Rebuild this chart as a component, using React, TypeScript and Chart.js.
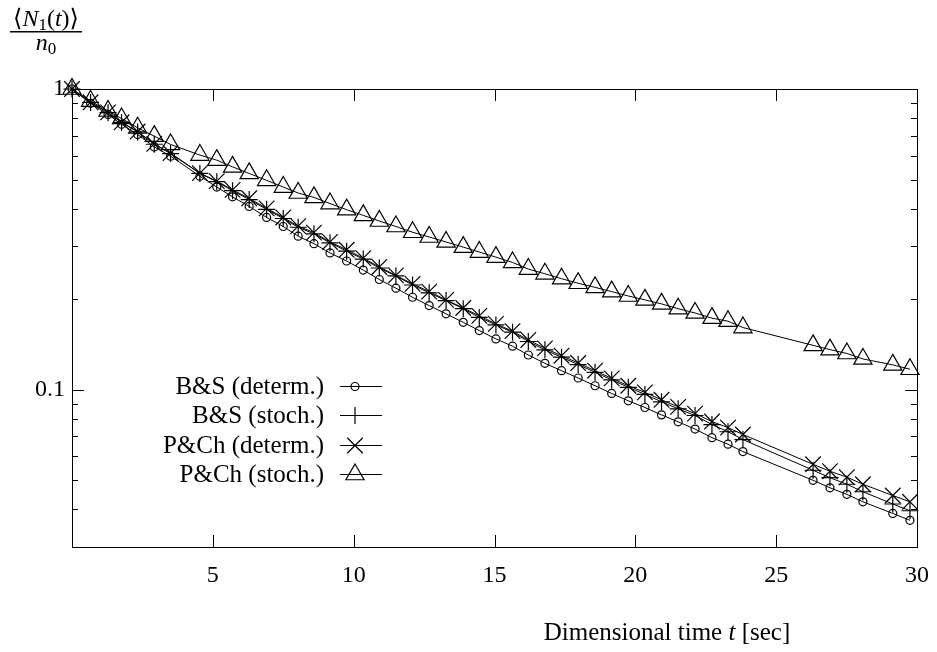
import React, { useEffect, useRef } from 'react';
import { Chart, registerables } from 'chart.js';
import { drawPoint } from 'chart.js/helpers';

Chart.register(...registerables);

const W = 937;
const H = 652;
const FONT = '"Liberation Serif", "DejaVu Serif", serif';

// Dimensional time t [sec] of each sample
const times = [
  0, 0.66, 1.28, 1.76, 2.33, 2.92, 3.5,
  4.54, 5.14, 5.7, 6.29, 6.91, 7.5, 8.03, 8.59, 9.16, 9.75,
  10.34, 10.91, 11.5, 12.09, 12.68, 13.28, 13.89, 14.46, 15.05, 15.64,
  16.2, 16.79, 17.38, 17.97, 18.57, 19.16, 19.75, 20.34, 20.93, 21.52,
  22.12, 22.72, 23.29, 23.82,
  26.31, 26.91, 27.51, 28.08, 29.14, 29.75,
];

// <N1(t)>/n0 for each series
const bsDeterm = [
  1.0, 0.896, 0.823, 0.763, 0.706, 0.642, 0.598,
  0.513, 0.472, 0.438, 0.407, 0.374, 0.349, 0.324, 0.306, 0.285, 0.268,
  0.25, 0.2326, 0.2176, 0.203, 0.1905, 0.1788, 0.1676, 0.1573, 0.1476, 0.1396,
  0.1305, 0.1224, 0.1157, 0.1094, 0.1031, 0.0972, 0.0919, 0.0873, 0.0825, 0.0782,
  0.074, 0.0693, 0.0659, 0.0623,
  0.05, 0.0472, 0.0449, 0.0424, 0.0388, 0.0368,
];
const bsStoch = [
  1.0, 0.902, 0.834, 0.774, 0.72, 0.655, 0.61,
  0.524, 0.492, 0.459, 0.429, 0.398, 0.371, 0.347, 0.33, 0.308, 0.289,
  0.272, 0.254, 0.239, 0.223, 0.21, 0.198, 0.186, 0.174, 0.1643, 0.1554,
  0.1447, 0.1357, 0.1283, 0.1213, 0.1143, 0.1078, 0.1019, 0.0965, 0.0912, 0.0864,
  0.0821, 0.0766, 0.0725, 0.0683,
  0.054, 0.051, 0.0485, 0.0458, 0.0417, 0.0396,
];
const pchDeterm = [
  1.0, 0.903, 0.836, 0.775, 0.722, 0.657, 0.612,
  0.525, 0.494, 0.462, 0.433, 0.401, 0.374, 0.35, 0.333, 0.31, 0.292,
  0.274, 0.256, 0.24, 0.225, 0.212, 0.199, 0.187, 0.176, 0.1656, 0.1566,
  0.1464, 0.1373, 0.1298, 0.1227, 0.1157, 0.1091, 0.1031, 0.098, 0.0926, 0.0877,
  0.0833, 0.0784, 0.0748, 0.071,
  0.0565, 0.0536, 0.0512, 0.0485, 0.0445, 0.0424,
];
const pchStoch = [
  1.0, 0.912, 0.845, 0.798, 0.743, 0.697, 0.654,
  0.603, 0.58, 0.551, 0.524, 0.497, 0.472, 0.451, 0.436, 0.416, 0.397,
  0.38, 0.364, 0.349, 0.334, 0.322, 0.31, 0.298, 0.287, 0.276, 0.265,
  0.252, 0.243, 0.234, 0.226, 0.219, 0.212, 0.205, 0.199, 0.193, 0.186,
  0.18, 0.173, 0.169, 0.161,
  0.1405, 0.136, 0.132, 0.1266, 0.121, 0.117,
];

const seriesNames = ['B&S (determ.)', 'B&S (stoch.)', 'P&Ch (determ.)', 'P&Ch (stoch.)'];
const seriesValues = [bsDeterm, bsStoch, pchDeterm, pchStoch];
const markerStyles = ['circle', 'cross', 'crossRot', 'triangle'];
const markerRadii = [4, 8.5, 11, 10.5];

const xMajorTicks = [5, 10, 15, 20, 25, 30];
const yLabelTicks = [0.1, 1];
const yMinorTicks = [0.9, 0.8, 0.7, 0.6, 0.5, 0.4, 0.3, 0.2, 0.09, 0.08, 0.07, 0.06, 0.05, 0.04];

const xTitleParts = [
  { text: 'Dimensional time ', italic: false },
  { text: 't', italic: true },
  { text: ' [sec]', italic: false },
];

const decorPlugin = {
  id: 'decor',
  afterDraw(chart: any) {
    const ctx = chart.ctx as CanvasRenderingContext2D;
    const { left, right, top, bottom } = chart.chartArea;
    const xs = chart.scales.x;
    const ys = chart.scales.y;
    ctx.save();
    ctx.strokeStyle = '#000';
    ctx.fillStyle = '#000';
    ctx.lineWidth = 1;
    // frame
    ctx.strokeRect(Math.round(left) + 0.5, Math.round(top) + 0.5, Math.round(right - left), Math.round(bottom - top));
    // ticks (inward, all four sides)
    ctx.beginPath();
    const major = 12;
    const minor = 6;
    xMajorTicks.forEach((v) => {
      const px = Math.round(xs.getPixelForValue(v)) + 0.5;
      ctx.moveTo(px, bottom);
      ctx.lineTo(px, bottom - major);
      ctx.moveTo(px, top);
      ctx.lineTo(px, top + major);
    });
    yLabelTicks.forEach((v) => {
      const py = Math.round(ys.getPixelForValue(v)) + 0.5;
      ctx.moveTo(left, py);
      ctx.lineTo(left + major, py);
      ctx.moveTo(right, py);
      ctx.lineTo(right - major, py);
    });
    yMinorTicks.forEach((v) => {
      const py = Math.round(ys.getPixelForValue(v)) + 0.5;
      ctx.moveTo(left, py);
      ctx.lineTo(left + minor, py);
      ctx.moveTo(right, py);
      ctx.lineTo(right - minor, py);
    });
    ctx.stroke();

    // legend
    const rowY = [386, 415, 445, 474];
    const textRight = 324;
    const lineL = 340;
    const lineR = 382;
    const markX = 355;
    ctx.font = `25px ${FONT}`;
    ctx.textAlign = 'right';
    ctx.textBaseline = 'middle';
    seriesNames.forEach((name, i) => {
      const y = rowY[i];
      ctx.fillStyle = '#000';
      ctx.fillText(name, textRight, y + 1);
      ctx.beginPath();
      ctx.moveTo(lineL, y + 0.5);
      ctx.lineTo(lineR, y + 0.5);
      ctx.lineWidth = 1;
      ctx.stroke();
      ctx.fillStyle = 'rgba(0,0,0,0)';
      ctx.lineWidth = 1.2;
      drawPoint(ctx, { pointStyle: markerStyles[i], radius: markerRadii[i], rotation: 0, borderWidth: 1.2 } as any, markX, y + 0.5);
    });

    // y-axis title as fraction
    ctx.fillStyle = '#000';
    ctx.textAlign = 'left';
    ctx.textBaseline = 'alphabetic';
    const cx = 46;
    const num = [
      { t: '\u27E8', f: `24px ${FONT}`, dy: 0 },
      { t: 'N', f: `italic 24px ${FONT}`, dy: 0 },
      { t: '1', f: `17px ${FONT}`, dy: 4 },
      { t: '(', f: `24px ${FONT}`, dy: 0 },
      { t: 't', f: `italic 24px ${FONT}`, dy: 0 },
      { t: ')', f: `24px ${FONT}`, dy: 0 },
      { t: '\u27E9', f: `24px ${FONT}`, dy: 0 },
    ];
    let wsum = 0;
    num.forEach((p) => { ctx.font = p.f; wsum += ctx.measureText(p.t).width; });
    let xp = cx - wsum / 2;
    num.forEach((p) => { ctx.font = p.f; ctx.fillText(p.t, xp, 26 + p.dy); xp += ctx.measureText(p.t).width; });
    ctx.fillRect(10, 31, 72, 1.5);
    const den = [
      { t: 'n', f: `italic 24px ${FONT}`, dy: 0 },
      { t: '0', f: `17px ${FONT}`, dy: 4 },
    ];
    wsum = 0;
    den.forEach((p) => { ctx.font = p.f; wsum += ctx.measureText(p.t).width; });
    xp = cx - wsum / 2;
    den.forEach((p) => { ctx.font = p.f; ctx.fillText(p.t, xp, 50 + p.dy); xp += ctx.measureText(p.t).width; });

    // x-axis title
    let tw = 0;
    xTitleParts.forEach((p) => { ctx.font = `${p.italic ? 'italic ' : ''}25px ${FONT}`; tw += ctx.measureText(p.text).width; });
    xp = 667 - tw / 2;
    xTitleParts.forEach((p) => {
      ctx.font = `${p.italic ? 'italic ' : ''}25px ${FONT}`;
      ctx.fillText(p.text, xp, 640);
      xp += ctx.measureText(p.text).width;
    });
    ctx.restore();
  },
};

export default function App() {
  const ref = useRef<HTMLCanvasElement | null>(null);
  useEffect(() => {
    if (!ref.current) return;
    const datasets = seriesValues.map((vals, i) => ({
      label: seriesNames[i],
      data: times.map((t, k) => ({ x: t, y: vals[k] })),
      borderColor: '#000',
      borderWidth: 1,
      backgroundColor: 'rgba(0,0,0,0)',
      pointStyle: markerStyles[i],
      pointRadius: markerRadii[i],
      pointBorderWidth: 1.2,
      pointBorderColor: '#000',
      pointBackgroundColor: 'rgba(0,0,0,0)',
      fill: false,
      tension: 0,
      clip: false,
    }));
    const chart = new Chart(ref.current, {
      type: 'line',
      data: { datasets },
      options: {
        responsive: false,
        animation: false,
        events: [],
        layout: { padding: { left: 0, right: 20, top: 89, bottom: 0 } },
        plugins: { legend: { display: false }, tooltip: { enabled: false } },
        scales: {
          x: {
            type: 'linear',
            min: 0,
            max: 30,
            grid: { display: false, drawTicks: false },
            border: { display: false },
            ticks: {
              stepSize: 5,
              autoSkip: false,
              maxRotation: 0,
              padding: 14,
              color: '#000',
              font: { family: FONT, size: 24 },
              callback: (v: any) => (v === 0 ? '' : String(v)),
            },
            afterFit: (s: any) => { s.height = 105; s.paddingLeft = 0; s.paddingRight = 0; },
          },
          y: {
            type: 'logarithmic',
            min: 0.03,
            max: 1,
            grid: { display: false, drawTicks: false },
            border: { display: false },
            ticks: {
              autoSkip: false,
              padding: 7,
              color: '#000',
              font: { family: FONT, size: 24 },
              callback: (v: any) => String(v),
            },
            afterBuildTicks: (s: any) => { s.ticks = yLabelTicks.map((v) => ({ value: v })); },
            afterFit: (s: any) => { s.width = 72; s.paddingTop = 0; s.paddingBottom = 0; },
          },
        },
      } as any,
      plugins: [decorPlugin],
    });
    return () => chart.destroy();
  }, []);
  return (
    <div style={{ position: 'fixed', left: 0, top: 0, width: W, height: H, background: '#fff' }}>
      <canvas ref={ref} width={W} height={H} style={{ width: W, height: H, display: 'block' }} />
    </div>
  );
}
